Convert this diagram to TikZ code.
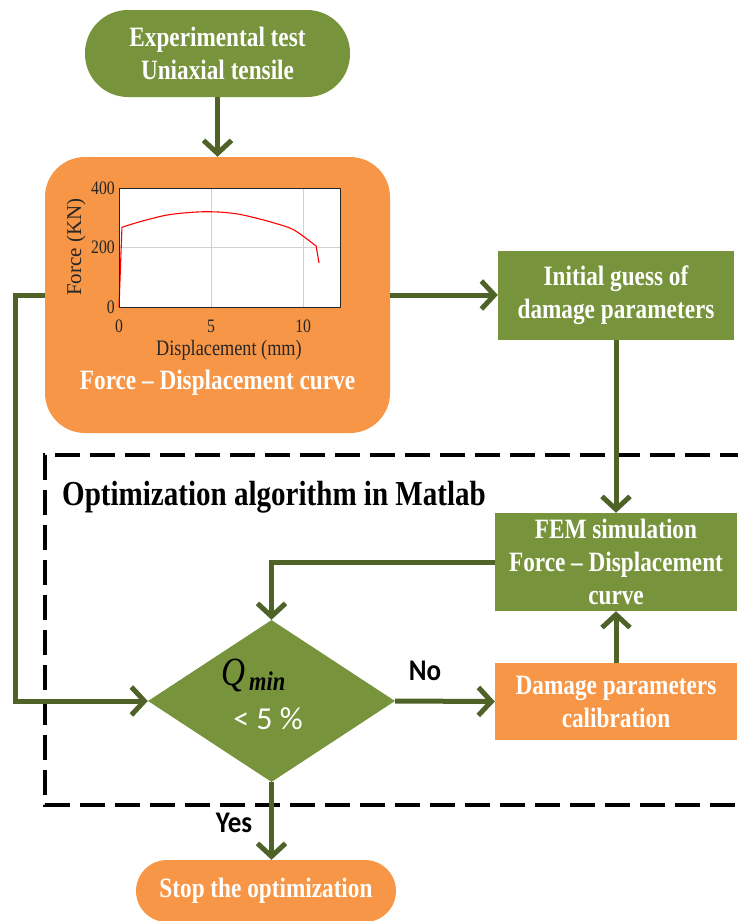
\documentclass[tikz,border=0pt]{standalone}
\usepackage{fontspec}
\setmainfont{Liberation Serif}[
  FakeStretch=0.83,
  UprightFont={Liberation Serif},
  BoldFont={Liberation Serif Bold},
  ItalicFont={Liberation Serif Italic},
  BoldItalicFont={Liberation Serif Bold Italic}]
\newfontfamily\axisfont{Liberation Serif}
\newfontfamily\tagfont{Carlito}[FakeStretch=0.9]
\newfontfamily\relfont{Carlito}
\usetikzlibrary{arrows.meta,shapes.geometric}
\definecolor{boxgreen}{HTML}{77933C}
\definecolor{boxorange}{HTML}{F79646}
\definecolor{linkgreen}{HTML}{4F6228}
\definecolor{axisgray}{HTML}{262626}

\begin{document}
\begin{tikzpicture}[x=1pt,y=-1pt,
  boxtext/.style={text=white, font=\bfseries\fontsize{28}{33}\selectfont, align=center, inner sep=0pt},
  greenbox/.style={boxtext, fill=boxgreen},
  orangebox/.style={boxtext, fill=boxorange},
  flow/.style={draw=linkgreen, line width=5pt, -{Straight Barb[length=13pt,width=28pt]}},
  ticklabel/.style={text=axisgray, inner sep=0pt, font=\fontsize{19}{19}\selectfont},
  tag/.style={anchor=base, inner sep=0pt, font=\tagfont\bfseries\fontsize{30}{30}\selectfont},
]
\useasboundingbox (0,0) rectangle (738,921);

% dashed frame of the optimisation loop (open on the right)
\draw[black, line width=3.5pt, dash pattern=on 25pt off 10pt]
  (745,455) -- (45,455) -- (45,805) -- (745,805);

% boxes
\node[greenbox, minimum width=265pt, minimum height=87pt, rounded corners=43pt]
  (exp) at (217.5,53.5) {Experimental test\\Uniaxial tensile};
\node[orangebox, minimum width=345pt, minimum height=276pt, rounded corners=40pt]
  (fd) at (217.5,295) {};
\node[boxtext, anchor=base] (fdlabel) at (217.5,389) {Force – Displacement curve};
\node[greenbox, minimum width=236pt, minimum height=89pt]
  (guess) at (616,295.5) {Initial guess of\\damage parameters};
\node[greenbox, minimum width=242pt, minimum height=98pt]
  (fem) at (616,562) {FEM simulation\\Force – Displacement\\curve};
\node[orangebox, minimum width=242pt, minimum height=77pt]
  (calib) at (616,701.5) {Damage parameters\\calibration};
\node[diamond, fill=boxgreen, minimum width=247pt, minimum height=162pt, inner sep=0pt]
  (dec) at (271.5,701) {};
\node[orangebox, minimum width=260pt, minimum height=62pt, rounded corners=31pt]
  (stop) at (266,891) {Stop the optimization};

% decision text
\node[anchor=base west, inner sep=0pt, font=\itshape\fontsize{40}{40}\selectfont]
  (q) at (221,685) {Q};
\node[anchor=base west, inner sep=0pt, font=\bfseries\itshape\fontsize{27}{27}\selectfont]
  (qsub) at (249,690) {min};
\node[anchor=base, inner sep=0pt, text=white, font=\relfont\fontsize{32}{32}\selectfont]
  (lim) at (268,729) {< 5 \%};

% title of the loop
\node[anchor=base west, inner sep=0pt, font=\bfseries\fontsize{35}{35}\selectfont]
  (title) at (62,505) {Optimization algorithm in Matlab};

% force-displacement plot
\begin{scope}[shift={(119,307)}, x=18.42pt, y=0.2975pt]
  \fill[white] (0,0) rectangle (12,400);
  \draw[black!18, line width=0.6pt] (5,0) -- (5,400) (10,0) -- (10,400) (0,200) -- (12,200);
  \draw[red, line width=1.1pt, line join=round]
    (0,0) -- (0.16,268) -- plot[smooth] coordinates
    {(0.16,268) (1.1,286) (2.5,308) (3.5,316) (4.5,320) (5.5,319) (6.5,312)
     (7.5,298) (8.5,281) (9.5,259) (10.7,205)} -- (10.86,148);
  \draw[axisgray, line width=0.8pt] (0,0) rectangle (12,400);
  \foreach \v in {0,200,400}
    \node[ticklabel, anchor=east, xshift=-4pt] (yt\v) at (0,\v) {\v};
  \foreach \v in {0,5,10}
    \node[ticklabel, anchor=north, yshift=-13pt] (xt\v) at (\v,0) {\v};
\end{scope}
\node[anchor=base, inner sep=0pt, text=axisgray, font=\fontsize{22}{22}\selectfont]
  (xlab) at (229,355) {Displacement (mm)};
\node[rotate=90, inner sep=0pt, text=axisgray, font=\axisfont\fontsize{21}{21}\selectfont]
  (ylab) at (76,247) {Force (KN)};

% connectors
\coordinate (loopx) at (15,295);
\draw[flow] (exp.south) -- (fd.north);
\draw[flow] (fd.east) -- (fd.east -| guess.west);
\draw[flow] (guess.south) -- (fem.north);
\draw[flow] (fem.west) -| (dec.north);
\draw[flow] (dec.east) -- (calib.west);
\draw[flow] (calib.north) -- (fem.south);
\draw[flow] (fd.west) -- (loopx) |- (dec.west);
\draw[flow] (dec.south) -- (dec.south |- stop.north);

% branch labels
\node[tag] (no) at (425,680) {No};
\node[tag] (yes) at (234,832) {Yes};
\end{tikzpicture}
\end{document}
